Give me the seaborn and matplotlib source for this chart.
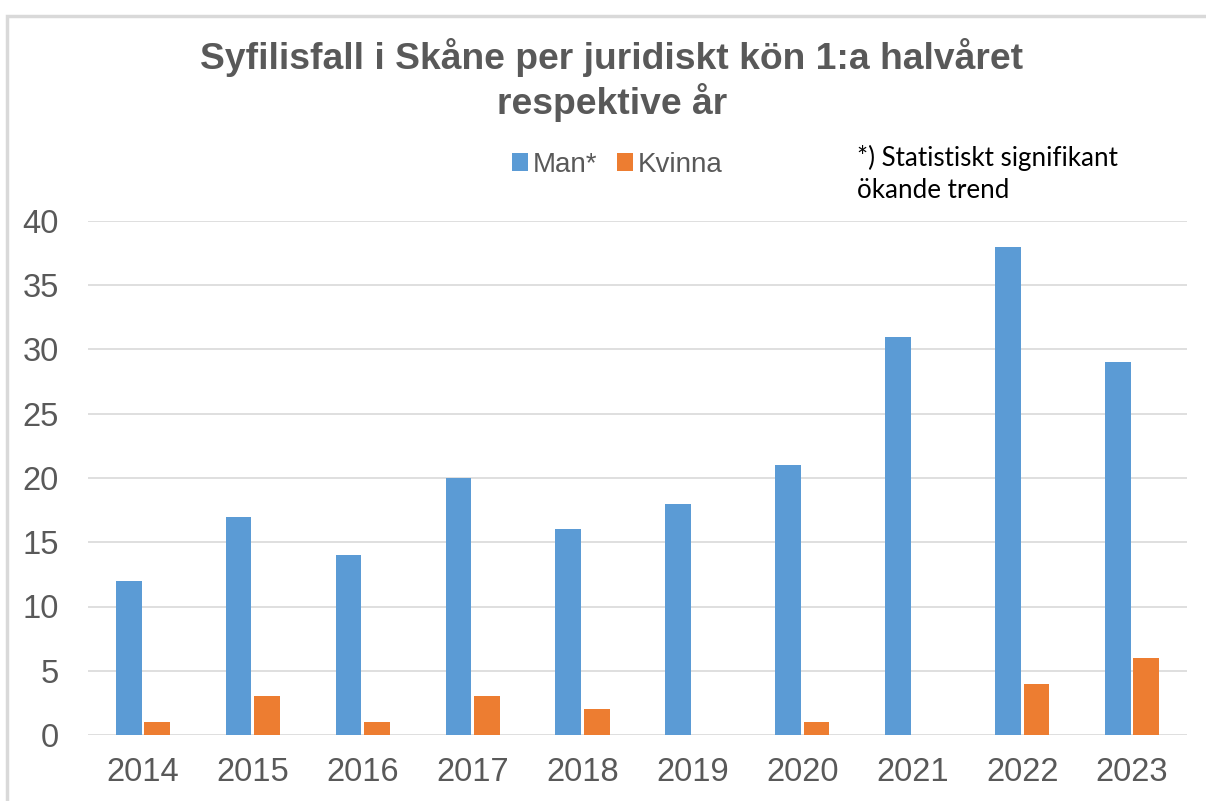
import numpy as np
import pandas as pd
import seaborn as sns
import matplotlib.pyplot as plt
from matplotlib.patches import Rectangle

# data
years = ["2014", "2015", "2016", "2017", "2018", "2019", "2020", "2021", "2022", "2023"]
man = [12, 17, 14, 20, 16, 18, 21, 31, 38, 29]
kvinna = [1, 3, 1, 3, 2, 0, 1, 0, 4, 6]
series = ["Man*", "Kvinna"]
colors = ["#5B9BD5", "#ED7D31"]

df = pd.DataFrame({
    "år": years * 2,
    "antal": man + kvinna,
    "kön": [series[0]] * len(years) + [series[1]] * len(years),
})

sns.set_theme(style="white")
plt.rcParams['font.family'] = ['Liberation Sans', 'DejaVu Sans']

fig = plt.figure(figsize=(12.06, 8.01), dpi=100)
ax = fig.add_axes([88 / 1206, 1 - 735 / 801, 1099 / 1206, 514 / 801])

sns.barplot(data=df, x="år", y="antal", hue="kön", palette=colors,
            width=0.52, gap=0.1, ax=ax, saturation=1, legend=True,
            edgecolor="none")

ax.set_ylim(0, 40)
ax.set_yticks(range(0, 41, 5))
ax.set_xlim(-0.5, 9.5)
ax.yaxis.grid(True, color="#D9D9D9", linewidth=1.2)
ax.set_axisbelow(True)
for s in ax.spines.values():
    s.set_visible(False)
ax.tick_params(axis="both", labelsize=23.5, colors="#595959", length=0)
ax.tick_params(axis="y", pad=21)
ax.tick_params(axis="x", pad=16)
ax.set_xlabel("")
ax.set_ylabel("")

# legend
leg = ax.legend(loc="center", bbox_to_anchor=(617 / 1206, 1 - 165 / 801),
                bbox_transform=fig.transFigure, ncol=2, frameon=False,
                fontsize=20, handlelength=0.6, handleheight=0.6,
                handletextpad=0.15, columnspacing=0.7)
for t in leg.get_texts():
    t.set_color("#595959")

# title
fig.text(612 / 1206, 1 - 80 / 801, "Syfilisfall i Skåne per juridiskt kön 1:a halvåret\nrespektive år",
         ha="center", va="center", fontsize=26.8, fontweight="bold", color="#595959",
         linespacing=1.2)

# annotation
fig.text(857 / 1206, 1 - 174 / 801, "*) Statistiskt signifikant\nökande trend",
         ha="left", va="center", fontsize=18.7, color="black", linespacing=1.35,
         family=["Lato", "DejaVu Sans"])

# border
fig.patches.append(Rectangle((7 / 1206, -0.1), 1.2, 1 - 16 / 801 + 0.1,
                             transform=fig.transFigure, fill=False,
                             edgecolor="#D9D9D9", linewidth=2.5))

plt.savefig("out.png", dpi=100)
